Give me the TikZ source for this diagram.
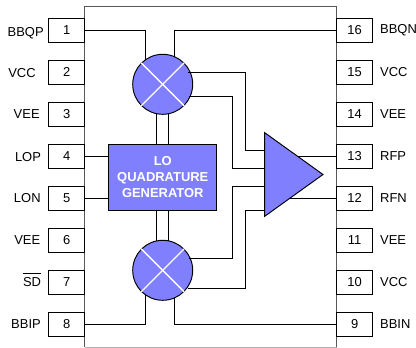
\documentclass[tikz,border=0pt]{standalone}
\usepackage{fontspec}
\setmainfont{Liberation Sans}
\definecolor{blk}{HTML}{8080FF}
\tikzset{x=1bp,y=-1bp,
 pinbox/.style={draw=black,line width=0.95bp,minimum width=36bp,minimum height=24bp,inner sep=0,font=\fontsize{13}{13}\selectfont,anchor=center,fill=white},
 lab/.style={inner sep=0,font=\fontsize{13}{13}\selectfont,anchor=center},
 labr/.style={inner sep=0,font=\fontsize{13}{13}\selectfont,anchor=west},
 wire/.style={draw=black,line width=0.95bp},
 mixer/.style={circle,draw=black,line width=0.95bp,fill=blk,minimum size=60bp,inner sep=0},
 xline/.style={draw=white,line width=1.3bp}}
\begin{document}
\begin{tikzpicture}
\useasboundingbox (0,0) rectangle (416,348);
\draw[draw=black!65,line width=0.95bp] (84.7,347) |- (336.7,6.5) -- (336.7,347);
\draw[draw=black!30,line width=0.95bp] (84.7,347) -- (336.7,347);
% left pins
\foreach \n/\y/\t/\x/\ty in {1/30.3/BBQP/25.7/33.3,2/72.3/VCC/22/73,3/114.3/VEE/26.7/114.3,4/156.3/LOP/28/156.7,5/198.3/LON/27.3/198.3,6/240.3/VEE/27.3/240.3,7/282.3/SD/32/282.3,8/324.3/BBIP/26/324.3}{
 \node[pinbox] (p\n) at (66.7,\y) {\raisebox{0.7bp}{\n}};
 \node[lab] (l\n) at (\x,\ty) {\t};
}
\draw[draw=black,line width=0.9bp] (l7.west |- 0,273.5) -- (l7.east |- 0,273.5);
% right pins
\foreach \n/\y/\t in {16/30.3/BBQN,15/72.3/VCC,14/114.3/VEE,13/156.3/RFP,12/198.3/RFN,11/240.3/VEE,10/282.3/VCC,9/324.3/BBIN}{
 \node[pinbox] (p\n) at (354.7,\y) {\raisebox{0.7bp}{\n}};
 \node[labr] (l\n) at (380,\y) {\t};
}
\node[mixer] (mt) at (162.7,84.3) {};
\node[mixer] (mb) at (162.7,270.3) {};
\draw[xline] (mt.45) -- (mt.225) (mt.135) -- (mt.-45);
\draw[xline] (mb.45) -- (mb.225) (mb.135) -- (mb.-45);
\node[draw=black,line width=0.95bp,fill=blk,minimum width=108bp,minimum height=65.5bp,inner sep=0,align=center,text=white,font=\fontsize{13}{16}\selectfont\bfseries] (lo) at (162.8,177.3) {LO\\QUADRATURE\\GENERATOR};
\coordinate (ta) at (264.7,132.7);
\coordinate (tb) at (264.7,216.3);
\coordinate (tc) at (323,174.5);
\draw[draw=black,line width=0.95bp,fill=blk] (ta) -- (tc) -- (tb) -- cycle;
% wires
\draw[wire] (p1.east) -- (145,30.3) -- (145,60);
\draw[wire] (p16.west) -- (174.7,30.3) -- (174.7,57);
\draw[wire] (p8.east) -- (145,324.3) -- (145,294.5);
\draw[wire] (p9.west) -- (174.7,324.3) -- (174.7,297.7);
\draw[wire] (p4.east) -- (lo.west |- p4.east);
\draw[wire] (p5.east) -- (lo.west |- p5.east);
\draw[wire] (156.7,113.7) -- (156.7,144.5);
\draw[wire] (168.7,113.7) -- (168.7,144.5);
\draw[wire] (156.7,210) -- (156.7,241);
\draw[wire] (168.7,210) -- (168.7,241);
\draw[wire] (187.5,72) -- (245,72) -- (245,150) -- (264.7,150);
\draw[wire] (188.5,96.3) -- (232,96.3) -- (232,168) -- (264.7,168);
\draw[wire] (188.5,258.3) -- (232,258.3) -- (232,186.3) -- (264.7,186.3);
\draw[wire] (187.5,288) -- (245,288) -- (245,210) -- (264.7,210);
\draw[wire] (298,156.3) -- (p13.west);
\draw[wire] (289,198.3) -- (p12.west);
\end{tikzpicture}
\end{document}
